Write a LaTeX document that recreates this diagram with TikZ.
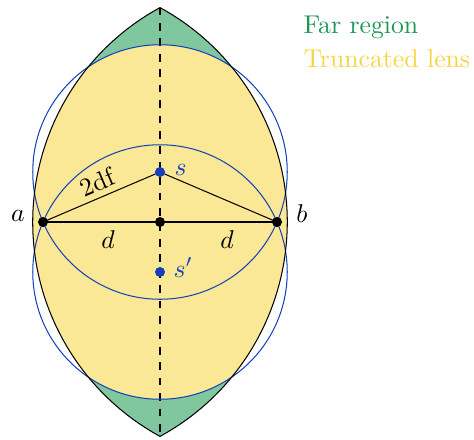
\documentclass[tikz,border=0pt]{standalone}
\begin{document}
\definecolor{farfill}{RGB}{128,199,160}
\definecolor{fartext}{RGB}{30,150,85}
\definecolor{lensfill}{RGB}{250,232,150}
\definecolor{lenstext}{RGB}{247,213,65}
\definecolor{myblue}{RGB}{20,65,185}
\begin{tikzpicture}[x=0.389pt,y=0.389pt,
  blackdot/.style={circle,fill=black,inner sep=0pt,minimum size=3.9pt},
  bluedot/.style={circle,fill=myblue,inner sep=0pt,minimum size=3.9pt},
  bluecirc/.style={draw=myblue,line width=0.4pt},
  thinline/.style={draw=black,line width=0.4pt},
  lbl/.style={anchor=base west,inner sep=0pt}]
\useasboundingbox (-160,-217) rectangle (314,222);
\def\Rb{127.24}
\def\Rl{244.24}
\coordinate (a) at (-117,0);
\coordinate (b) at (117,0);
\coordinate (o) at (0,0);
\coordinate (s) at (0,50);
\coordinate (sp) at (0,-50);
\coordinate (top) at (0,214.4);
\coordinate (bot) at (0,-214.4);
% far region (whole lens)
\begin{scope}
  \clip (b) circle[radius=\Rl];
  \fill[farfill] (a) circle[radius=\Rl];
\end{scope}
% truncated lens
\begin{scope}
  \clip (b) circle[radius=\Rl];
  \clip (a) circle[radius=\Rl];
  \fill[lensfill] (s) circle[radius=\Rb];
  \fill[lensfill] (sp) circle[radius=\Rb];
  \fill[lensfill] (-135,-50) rectangle (135,50);
\end{scope}
\draw[dashed,line width=0.4pt] (top) -- (bot);
\draw[bluecirc] (s) circle[radius=\Rb];
\draw[bluecirc] (sp) circle[radius=\Rb];
\draw[line width=0.4pt] (top) arc[start angle=118.62,end angle=241.38,radius=\Rl]
  arc[start angle=-61.38,end angle=61.38,radius=\Rl] -- cycle;
\draw[thinline] (a) -- (b);
\draw[thinline] (a) -- (s) -- (b);
\node[blackdot] (na) at (a) {};
\node[blackdot] (nb) at (b) {};
\node[blackdot] (no) at (o) {};
\node[bluedot] (ns) at (s) {};
\node[bluedot] (nsp) at (sp) {};
\node (la) at (-142,6) {$a$};
\node (lb) at (142,8) {$b$};
\node (ld1) at (-52,-18) {$d$};
\node (ld2) at (67,-18) {$d$};
\node[lbl,text=myblue] (ls) at (14,47) {$s$};
\node[lbl,text=myblue] (lsp) at (13,-55) {$s'$};
\node[rotate=23.1,inner sep=0pt] (l2df) at (-63,40) {2df};
\node[lbl,text=fartext] (lfar) at (143,189) {Far region};
\node[lbl,text=lenstext] (llens) at (143,155) {Truncated lens};
\end{tikzpicture}
\end{document}
